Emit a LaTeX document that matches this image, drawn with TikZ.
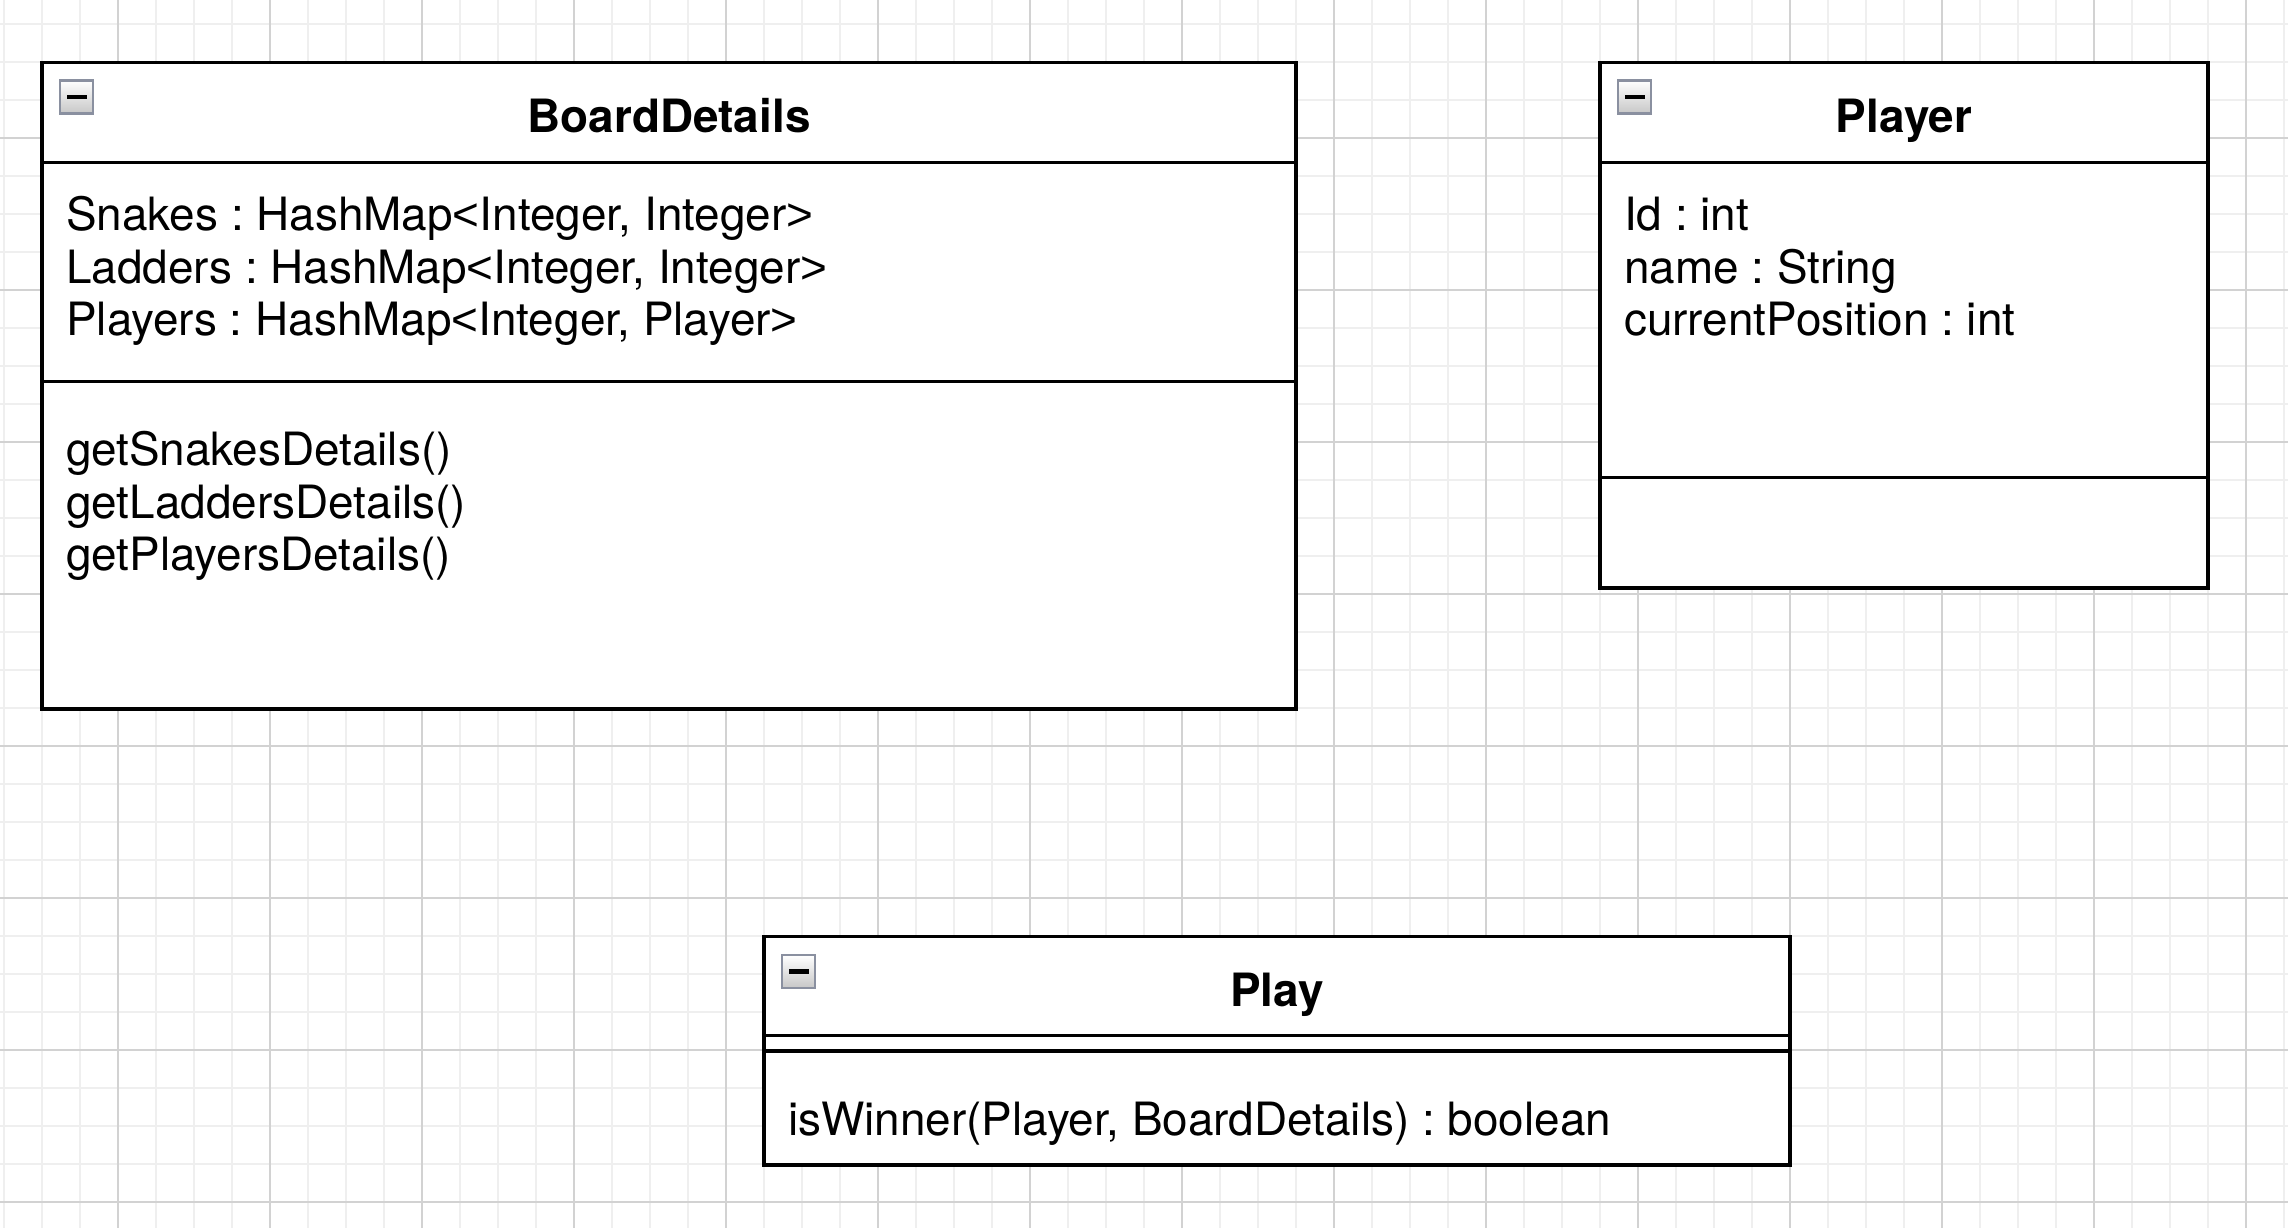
\documentclass[tikz,border=0pt]{standalone}
\usepackage{fontspec}
\setmainfont{TeX Gyre Heros}
\newfontfamily\bracketfont{Liberation Sans}
\newcommand{\ltsym}{{\bracketfont<}}
\newcommand{\gtsym}{{\bracketfont>}}
\frenchspacing
\definecolor{gridlight}{HTML}{EFEFEF}
\definecolor{griddark}{HTML}{D2D2D2}
\definecolor{iconedge}{HTML}{8A90A0}
\tikzset{
	umlbox/.style={draw=black, line width=1pt, fill=white},
	umlline/.style={draw=black, line width=1pt},
	classname/.style={font=\fontsize{13.05pt}{14.94pt}\selectfont\bfseries, inner sep=0pt, anchor=base},
	member/.style={font=\fontsize{13.05pt}{14.94pt}\selectfont, align=left, inner sep=0pt, anchor=base west},
	minusicon/.pic={
		\draw[iconedge, line width=0.65pt, top color=white, bottom color=black!22] (0,0) rectangle (33,33);
		\draw[black, line width=1.15pt] (7,16.5) -- (27,16.5);
	}
}

\begin{document}
\begin{tikzpicture}[x=0.01cm, y=-0.01cm]
\useasboundingbox (0,0) rectangle (2288,1228);
\fill[white] (0,0) rectangle (2288,1228);
% grid
\foreach \gx in {4,42,...,2284}
	\draw[gridlight, line width=0.4pt] (\gx,0) -- (\gx,1228);
\foreach \gy in {24,62,...,1202}
	\draw[gridlight, line width=0.4pt] (0,\gy) -- (2288,\gy);
\foreach \gx in {118,270,...,2246}
	\draw[griddark, line width=0.4pt] (\gx,0) -- (\gx,1228);
\foreach \gy in {138,290,...,1202}
	\draw[griddark, line width=0.4pt] (0,\gy) -- (2288,\gy);

% BoardDetails (member nodes sit on their last baseline)
\draw[umlbox] (42,62.5) rectangle (1296,709);
\draw[umlline] (42,162.3) -- (1296,162.3);
\draw[umlline] (42,381.5) -- (1296,381.5);
\pic at (60,80.5) {minusicon};
\node[classname] (boardtitle) at (669,133) {BoardDetails};
\node[member] (boardattr) at (65.5,335.7) {Snakes : HashMap\ltsym Integer, Integer\gtsym\\Ladders : HashMap\ltsym Integer, Integer\gtsym\\Players : HashMap\ltsym Integer, Player\gtsym};
\node[member] (boardops) at (65.5,571) {getSnakesDetails()\\getLaddersDetails()\\getPlayersDetails()};

% Player
\draw[umlbox] (1600,62.5) rectangle (2208,588);
\draw[umlline] (1600,162.3) -- (2208,162.3);
\draw[umlline] (1600,477.5) -- (2208,477.5);
\pic at (1618,80.5) {minusicon};
\node[classname] (playertitle) at (1904,133) {Player};
\node[member] (playerattr) at (1623.5,335.7) {Id : int\\name : String\\currentPosition : int};

% Play
\draw[umlbox] (764,936.5) rectangle (1790,1165);
\draw[umlline] (764,1035.7) -- (1790,1035.7);
\draw[umlline] (764,1051) -- (1790,1051);
\pic at (782,955) {minusicon};
\node[classname] (playtitle) at (1277,1006.5) {Play};
\node[member] (playops) at (787.5,1135.5) {isWinner(Player, BoardDetails) : boolean};
\end{tikzpicture}
\end{document}
